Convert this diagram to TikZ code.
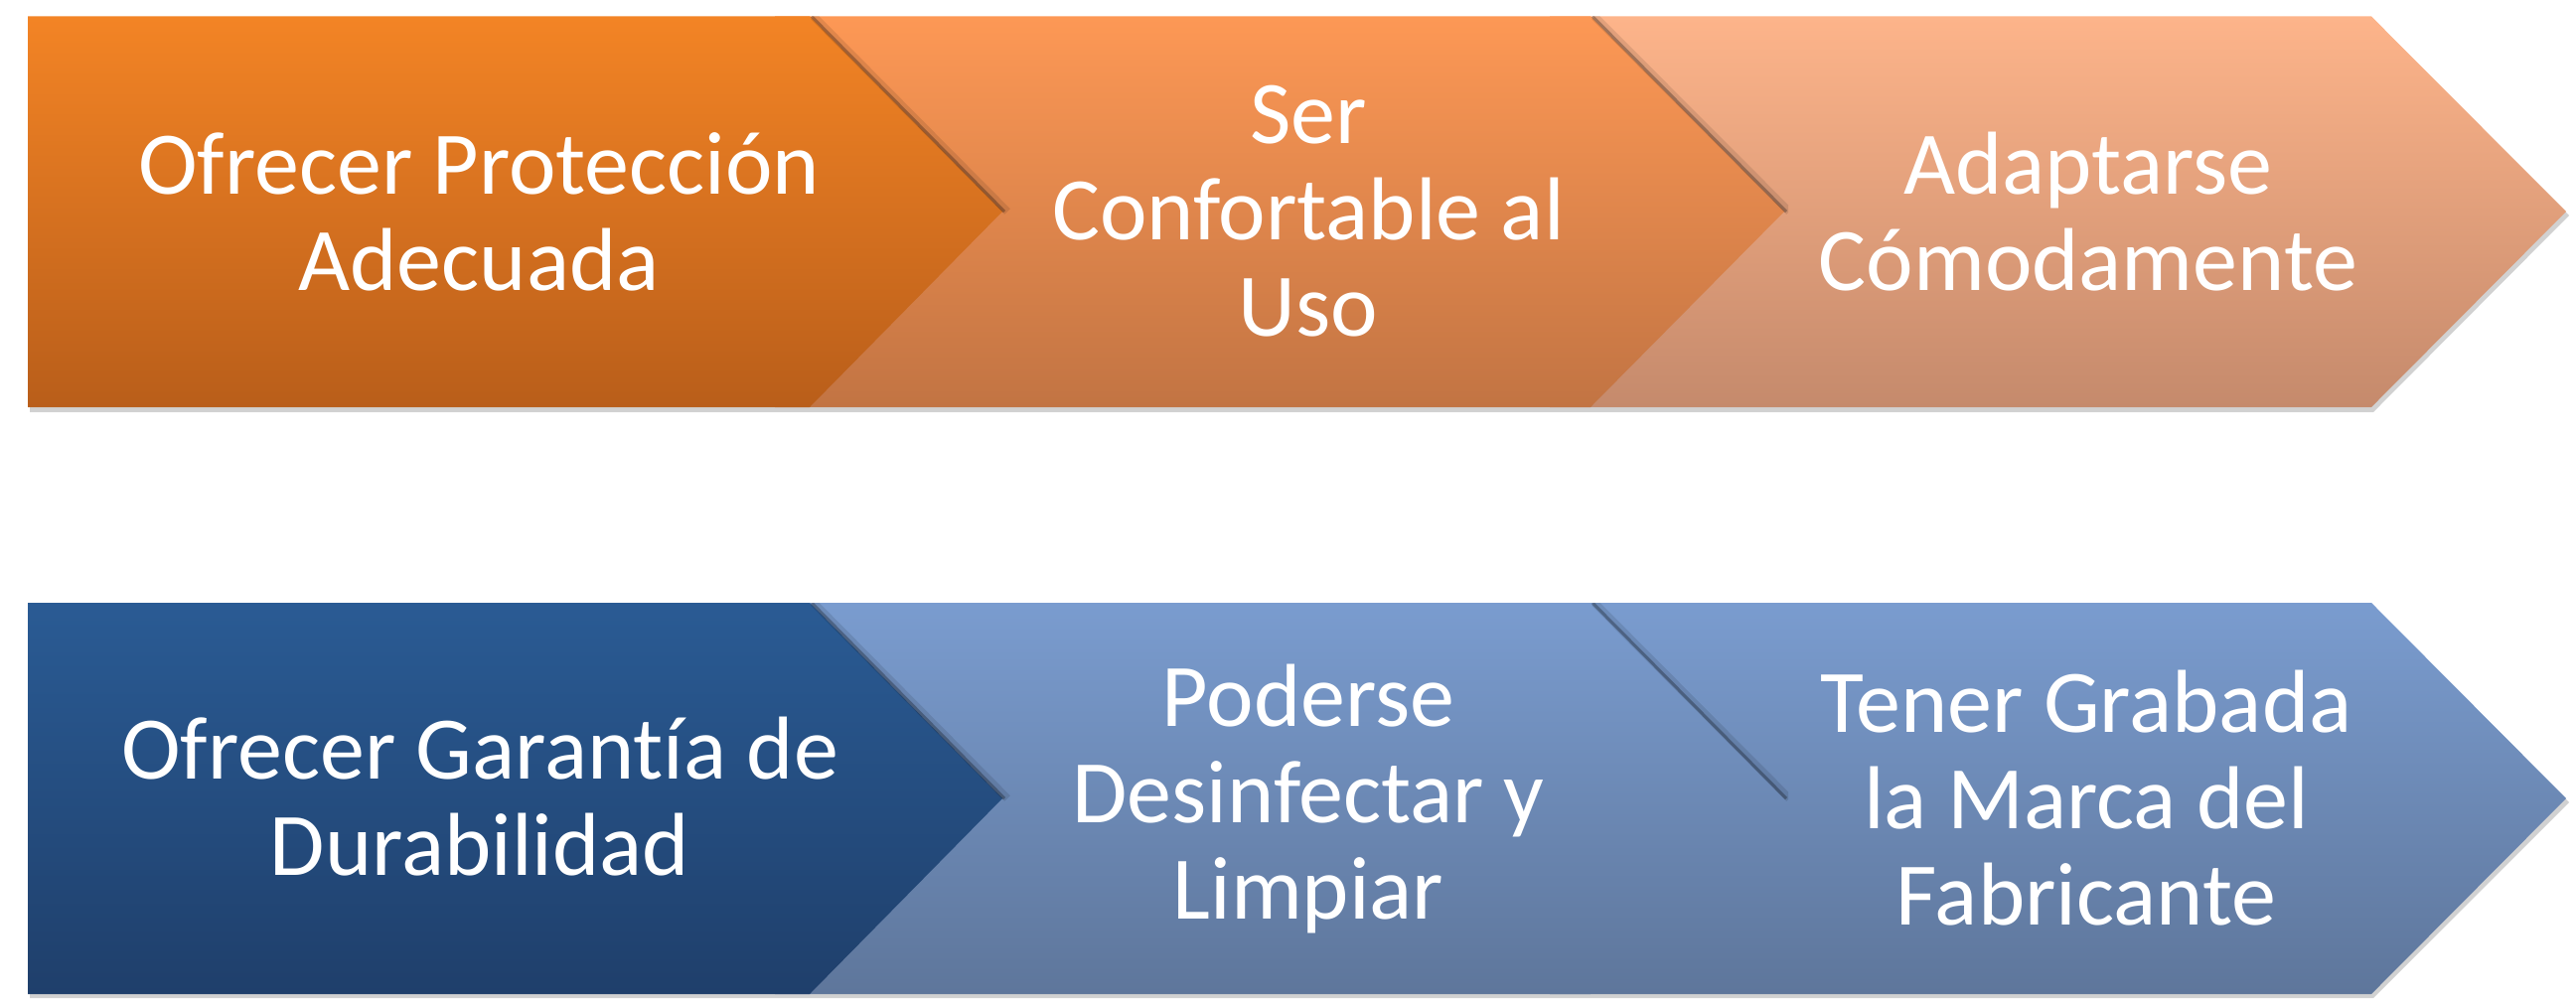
\documentclass[tikz,border=0pt]{standalone}
\usepackage{fontspec}
\setmainfont{Carlito}[Ligatures={NoCommon,NoContextual}]
\definecolor{oA1}{RGB}{243,132,37}
\definecolor{oA2}{RGB}{185,94,26}
\definecolor{oB1}{RGB}{253,152,85}
\definecolor{oB2}{RGB}{194,116,67}
\definecolor{oC1}{RGB}{253,180,138}
\definecolor{oC2}{RGB}{197,138,108}
\definecolor{bA1}{RGB}{42,91,148}
\definecolor{bA2}{RGB}{31,63,107}
\definecolor{bB1}{RGB}{122,156,207}
\definecolor{bB2}{RGB}{94,118,155}
\begin{document}
\begin{tikzpicture}[x=1pt,y=-1pt]
\tikzset{
  shadowfill/.style={fill=black,opacity=0.18},
  edgeshadow/.style={draw=black,opacity=0.28,line width=3pt},
  edgeshadowsoft/.style={draw=black,opacity=0.10,line width=8pt},
  lbl/.style={text=white,align=center,font=\fontsize{90}{97}\selectfont,inner sep=0pt}
}
\useasboundingbox (0,0) rectangle (2593,1006);
% ---------- top row ----------
\def\ya{16.5}\def\yb{410}\def\ym{213}
\fill[shadowfill] (30,\ya+4) -- (2389,\ya+4) -- (2586,\ym+4) -- (2389,\yb+5) -- (30,\yb+5) -- cycle;
\shade[top color=oC1,bottom color=oC2] (1560,\ya) -- (2387,\ya) -- (2583,\ym) -- (2387,\yb) -- (1560,\yb) -- cycle;
\shade[top color=oB1,bottom color=oB2] (780,\ya) -- (1601,\ya) -- (1796,\ym) -- (1601,\yb) -- (780,\yb) -- cycle;
\begin{scope}
\clip (1000,\ya) rectangle (1800,\yb);
\draw[edgeshadowsoft] (1605,\ya) -- (1801,\ym);
\draw[edgeshadow] (1603,\ya) -- (1798,\ym);
\end{scope}
\shade[top color=oA1,bottom color=oA2] (28,\ya) -- (815,\ya) -- (1009,\ym) -- (815,\yb) -- (28,\yb) -- cycle;
\begin{scope}
\clip (30,\ya) rectangle (1100,\yb);
\draw[edgeshadowsoft] (819,\ya) -- (1014,\ym);
\draw[edgeshadow] (817,\ya) -- (1011,\ym);
\end{scope}
% ---------- bottom row ----------
\def\ya{607}\def\yb{1001}\def\ym{804}
\fill[shadowfill] (30,\ya+4) -- (2389,\ya+4) -- (2586,\ym+4) -- (2389,\yb+4) -- (30,\yb+4) -- cycle;
\shade[top color=bB1,bottom color=bB2] (1560,\ya) -- (2387,\ya) -- (2583,\ym) -- (2387,\yb) -- (1560,\yb) -- cycle;
\shade[top color=bB1,bottom color=bB2] (780,\ya) -- (1601,\ya) -- (1796,\ym) -- (1601,\yb) -- (780,\yb) -- cycle;
\begin{scope}
\clip (1000,\ya) rectangle (1800,\yb);
\draw[edgeshadowsoft] (1605,\ya) -- (1801,\ym);
\draw[edgeshadow] (1603,\ya) -- (1798,\ym);
\end{scope}
\shade[top color=bA1,bottom color=bA2] (28,\ya) -- (815,\ya) -- (1009,\ym) -- (815,\yb) -- (28,\yb) -- cycle;
\begin{scope}
\clip (30,\ya) rectangle (1100,\yb);
\draw[edgeshadowsoft] (819,\ya) -- (1014,\ym);
\draw[edgeshadow] (817,\ya) -- (1011,\ym);
\end{scope}
% ---------- labels ----------
\node[lbl] (t1) at (482,213) {Ofrecer Protección\\Adecuada};
\node[lbl] (t2) at (1317,213) {Ser\\Confortable al\\Uso};
\node[lbl] (t3) at (2102,213) {Adaptarse\\Cómodamente};
\node[lbl] (b1) at (483,802) {Ofrecer Garantía de\\Durabilidad};
\node[lbl] (b2) at (1317,804) {Poderse\\Desinfectar y\\Limpiar};
\node[lbl] (b3) at (2100,804) {Tener Grabada\\la Marca del\\Fabricante};
\end{tikzpicture}
\end{document}
